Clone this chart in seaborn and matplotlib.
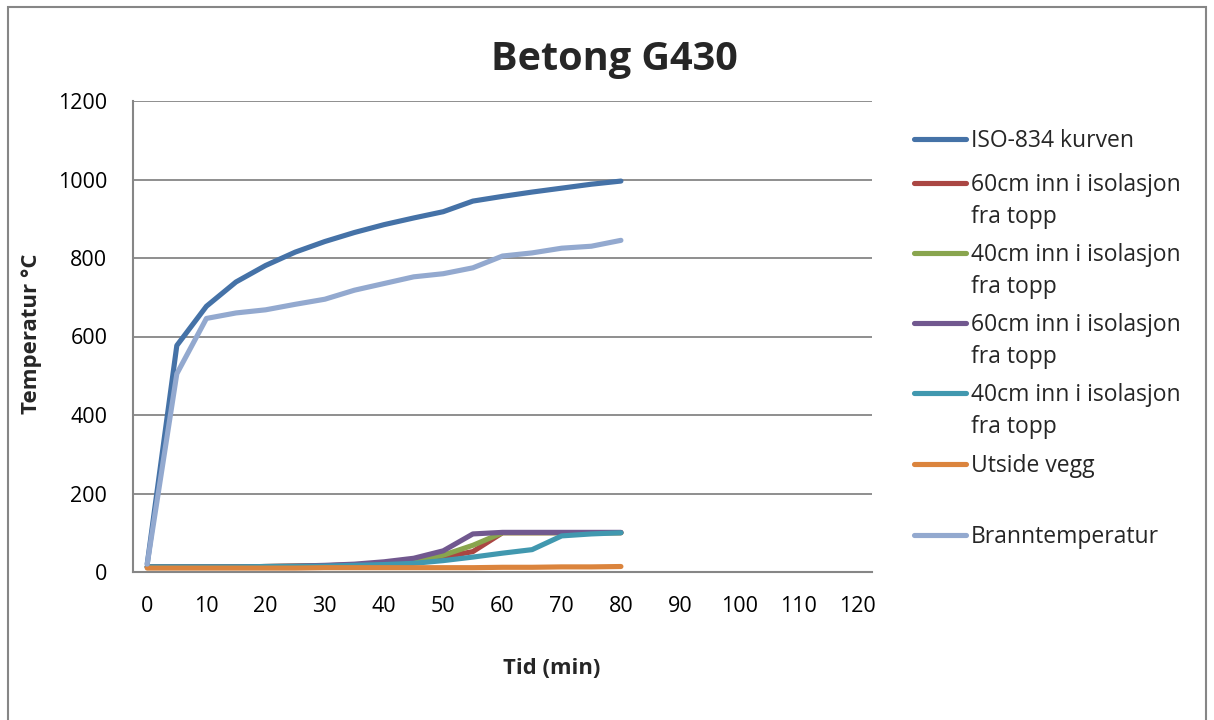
import matplotlib
matplotlib.use("Agg")
import matplotlib.pyplot as plt
from matplotlib.lines import Line2D
from matplotlib.patches import Rectangle
import pandas as pd
import seaborn as sns

# Time in minutes
tid = [0, 5, 10, 15, 20, 25, 30, 35, 40, 45, 50, 55, 60, 65, 70, 75, 80]

iso834 = [20, 577, 677, 739, 781, 815, 842, 865, 885, 902, 918, 945, 957, 968, 978, 988, 996]
iso60_a = [13, 13, 13, 13, 14, 15, 16, 18, 21, 26, 38, 52, 100, 100, 100, 100, 100]
iso40_a = [13, 13, 13, 13, 14, 15, 16, 18, 22, 28, 43, 68, 100, 100, 100, 100, 100]
iso60_b = [13, 13, 13, 13, 14, 15, 17, 20, 26, 35, 54, 97, 101, 101, 101, 101, 101]
iso40_b = [13, 13, 13, 13, 14, 14, 15, 17, 19, 22, 29, 38, 48, 57, 92, 97, 100]
utside = [10, 10, 10, 10, 10, 10, 11, 11, 11, 11, 11, 11, 12, 12, 13, 13, 14]
brann = [20, 505, 646, 660, 668, 682, 695, 718, 735, 752, 760, 775, 805, 813, 825, 830, 845]

labels = [
    "ISO-834 kurven",
    "60cm inn i isolasjon\nfra topp",
    "40cm inn i isolasjon\nfra topp",
    "60cm inn i isolasjon\nfra topp",
    "40cm inn i isolasjon\nfra topp",
    "Utside vegg",
    "Branntemperatur",
]
colors = ["#4572A7", "#AA4643", "#89A54E", "#71588F", "#4198AF", "#DB843D", "#93A9CF"]
series = [iso834, iso60_a, iso40_a, iso60_b, iso40_b, utside, brann]

x_ticks = [0, 10, 20, 30, 40, 50, 60, 70, 80, 90, 100, 110, 120]
y_ticks = [0, 200, 400, 600, 800, 1000, 1200]

sns.set_style("white")
plt.rcParams["font.family"] = ["Open Sans", "DejaVu Sans"]

W, H = 1214, 720
fig = plt.figure(figsize=(W / 100, H / 100), dpi=100)


def fx(px):
    return px / W


def fy(py):
    return 1 - py / H


# Outer chart frame
fig.patches.append(Rectangle((fx(8), fy(722)), fx(1206) - fx(8), fy(7) - fy(722),
                             transform=fig.transFigure, fill=False,
                             edgecolor="#868686", linewidth=1.5))

ax = fig.add_axes([fx(133), fy(572), fx(872) - fx(133), fy(101) - fy(572)])

rows = []
for i, vals in enumerate(series):
    for t, v in zip(tid, vals):
        rows.append({"Tid": t, "Temp": v, "Serie": i})
df = pd.DataFrame(rows)

sns.lineplot(data=df, x="Tid", y="Temp", hue="Serie",
             palette={i: c for i, c in enumerate(colors)},
             linewidth=3.7, legend=False, ax=ax,
             solid_capstyle="round", solid_joinstyle="round")

ax.set_xlim(-2.4, 122.4)
ax.set_ylim(0, 1200)
ax.set_xticks(x_ticks)
ax.set_xticklabels([str(v) for v in x_ticks])
ax.set_yticks(y_ticks)
ax.set_yticklabels([str(v) for v in y_ticks])
ax.tick_params(axis="x", length=0, pad=17, labelsize=15.5, colors="black")
ax.tick_params(axis="y", length=0, pad=18.5, labelsize=15.5, colors="black")
ax.grid(axis="y", color="#868686", linewidth=1.3)
ax.grid(axis="x", visible=False)
for s in ["top", "right"]:
    ax.spines[s].set_visible(False)
for s in ["left", "bottom"]:
    ax.spines[s].set_color("#868686")
    ax.spines[s].set_linewidth(1.5)
ax.set_xlabel("")
ax.set_ylabel("")

fig.text(fx(614), fy(70), "Betong G430", ha="center", va="baseline",
         fontsize=28.5, fontweight="bold")
fig.text(fx(552), fy(668), "Tid (min)", ha="center", va="center",
         fontsize=15.8, fontweight="bold")
fig.text(fx(32), fy(334), "Temperatur °C", ha="center", va="center",
         rotation=90, fontsize=16, fontweight="bold")

# Legend: one line sample per series, label lines stacked below the first
legend_y = [139, 183, 253, 323, 393, 464, 535]
for lab, col, py in zip(labels, colors, legend_y):
    fig.lines.append(Line2D([fx(914), fx(966)], [fy(py), fy(py)],
                            transform=fig.transFigure, color=col,
                            linewidth=3.7, solid_capstyle="round"))
    for k, line in enumerate(lab.split("\n")):
        fig.text(fx(971), fy(py + 8 + 32 * k), line, ha="left", va="baseline",
                 fontsize=16.5)

fig.savefig("out.png", dpi=100, facecolor="white")
